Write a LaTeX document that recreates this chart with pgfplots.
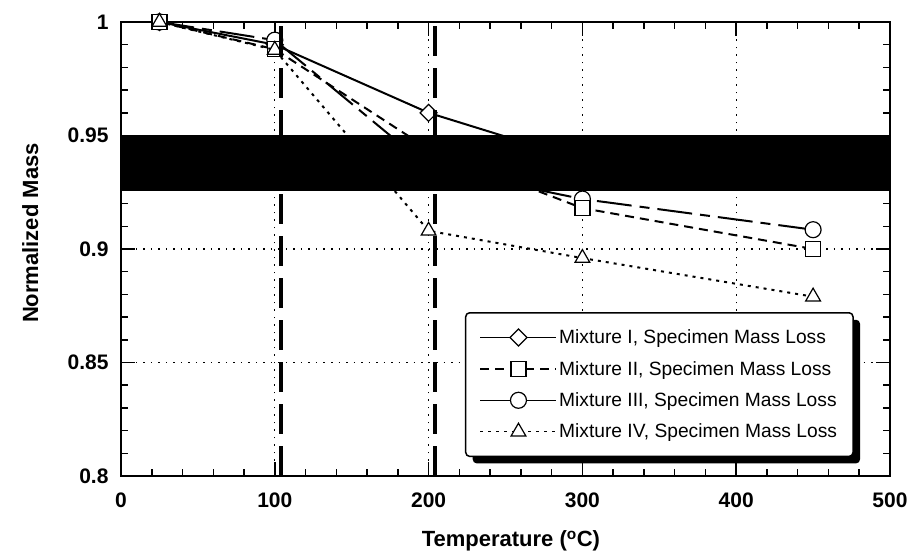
\documentclass[border=0pt]{standalone}
\usepackage{fontspec}
\setmainfont{Liberation Sans}
\usepackage{pgfplots}
\pgfplotsset{compat=1.18}
\usetikzlibrary{shadows}
\makeatletter
\tikzset{no preactions/.code={\let\tikz@preactions\pgfutil@empty}}
\makeatother
\begin{document}
\begin{tikzpicture}
\begin{axis}[
  name=ax,
  scale only axis, width=769pt, height=454pt,
  xmin=0, xmax=500, ymin=0.8, ymax=1,
  clip=false, clip marker paths=true,
  xtick={0,100,200,300,400,500},
  ytick={0.8,0.85,0.9,0.95,1},
  yticklabels={0.8,0.85,0.9,0.95,1},
  minor x tick num=4, minor y tick num=4,
  tick align=inside,
  major tick length=14pt, minor tick length=7pt,
  axis line style={line width=1.8pt},
  every tick/.style={black, line width=1.5pt},
  grid=major,
  major grid style={black, line width=1.2pt, dash pattern=on 1.5pt off 6pt},
  /pgf/number format/assume math mode=true,
  ticklabel style={font=\fontsize{21}{24}\selectfont\bfseries},
  xticklabel style={yshift=-13pt},
  yticklabel style={xshift=-9pt},
  xlabel={Temperature (\textsuperscript{o}C)},
  ylabel={Normalized Mass},
  label style={font=\fontsize{22}{26}\selectfont\bfseries},
  xlabel style={at={(axis description cs:0.507,-0.143)}, anchor=center},
  ylabel style={at={(axis description cs:-0.118,0.535)}, anchor=center},
  legend style={at={(0.4473,0.3612)}, anchor=north west, draw=black, line width=1.5pt,
    fill=white, rounded corners=4pt,
    drop shadow={shadow xshift=7pt, shadow yshift=-7pt, fill=black, opacity=1},
    font=\fontsize{19.2}{22}\selectfont, row sep=12pt, inner xsep=14pt, inner ysep=15pt,
    cells={anchor=west}},
  legend image code/.code={\draw[no preactions, rounded corners=0pt, mark repeat=2,mark phase=2,#1] plot coordinates {(0pt,0pt) (38pt,0pt) (76pt,0pt)};},
]
% Mixture I
\addplot[forget plot, black, line width=2pt, mark=square*, mark size=6pt,
  mark options={rotate=45, fill=white, solid, line width=1.2pt}]
  coordinates {(25,1) (100,0.990) (200,0.960) (300,0.939)};
% Mixture III
\addplot[forget plot, black, line width=2pt, dash pattern=on 35pt off 8pt on 10pt off 8pt,
  mark=*, mark size=8pt, mark options={fill=white, solid, line width=1.2pt}]
  coordinates {(25,1) (100,0.992) (200,0.936) (300,0.922) (450,0.9085)};
% Mixture II
\addplot[forget plot, black, line width=2pt, dash pattern=on 9pt off 6pt,
  mark=square*, mark size=7.5pt, mark options={fill=white, solid, line width=1.2pt}]
  coordinates {(25,1) (100,0.988) (200,0.944) (300,0.918) (450,0.900)};
% Mixture IV
\addplot[forget plot, black, line width=2pt, dash pattern=on 3pt off 5pt,
  mark=triangle*, mark size=8.5pt, mark options={fill=white, solid, line width=1.2pt}]
  coordinates {(25,1) (100,0.9877) (200,0.908) (300,0.896) (450,0.879)};
% black band
\addplot[forget plot, fill=black, draw=none]
  coordinates {(0,0.9256) (500,0.9256) (500,0.95) (0,0.95)} -- cycle;
% vertical thick dashed lines
\addplot[forget plot, black, line width=4pt, dash pattern=on 30pt off 12pt]
  coordinates {(104,0.8) (104,1)};
\addplot[forget plot, black, line width=4pt, dash pattern=on 30pt off 12pt]
  coordinates {(204,0.8) (204,1)};
% legend
\addlegendimage{black, line width=1.5pt, mark=square*, mark size=6pt, mark options={rotate=45, fill=white, solid, line width=1.2pt}}
\addlegendentry{Mixture I, Specimen Mass Loss}
\addlegendimage{black, line width=1.5pt, dash pattern=on 9pt off 6pt, mark=square*, mark size=7.5pt, mark options={fill=white, solid, line width=1.2pt}}
\addlegendentry{Mixture II, Specimen Mass Loss}
\addlegendimage{black, line width=1.5pt, mark=*, mark size=8pt, mark options={fill=white, solid, line width=1.2pt}}
\addlegendentry{Mixture III, Specimen Mass Loss}
\addlegendimage{black, line width=1.5pt, dash pattern=on 3pt off 5pt, mark=triangle*, mark size=8.5pt, mark options={fill=white, solid, line width=1.2pt}}
\addlegendentry{Mixture IV, Specimen Mass Loss}
\end{axis}
\pgfresetboundingbox
\useasboundingbox ([shift={(-121pt,-83pt)}]ax.south west) rectangle ([shift={(26pt,22pt)}]ax.north east);
\end{tikzpicture}
\end{document}
